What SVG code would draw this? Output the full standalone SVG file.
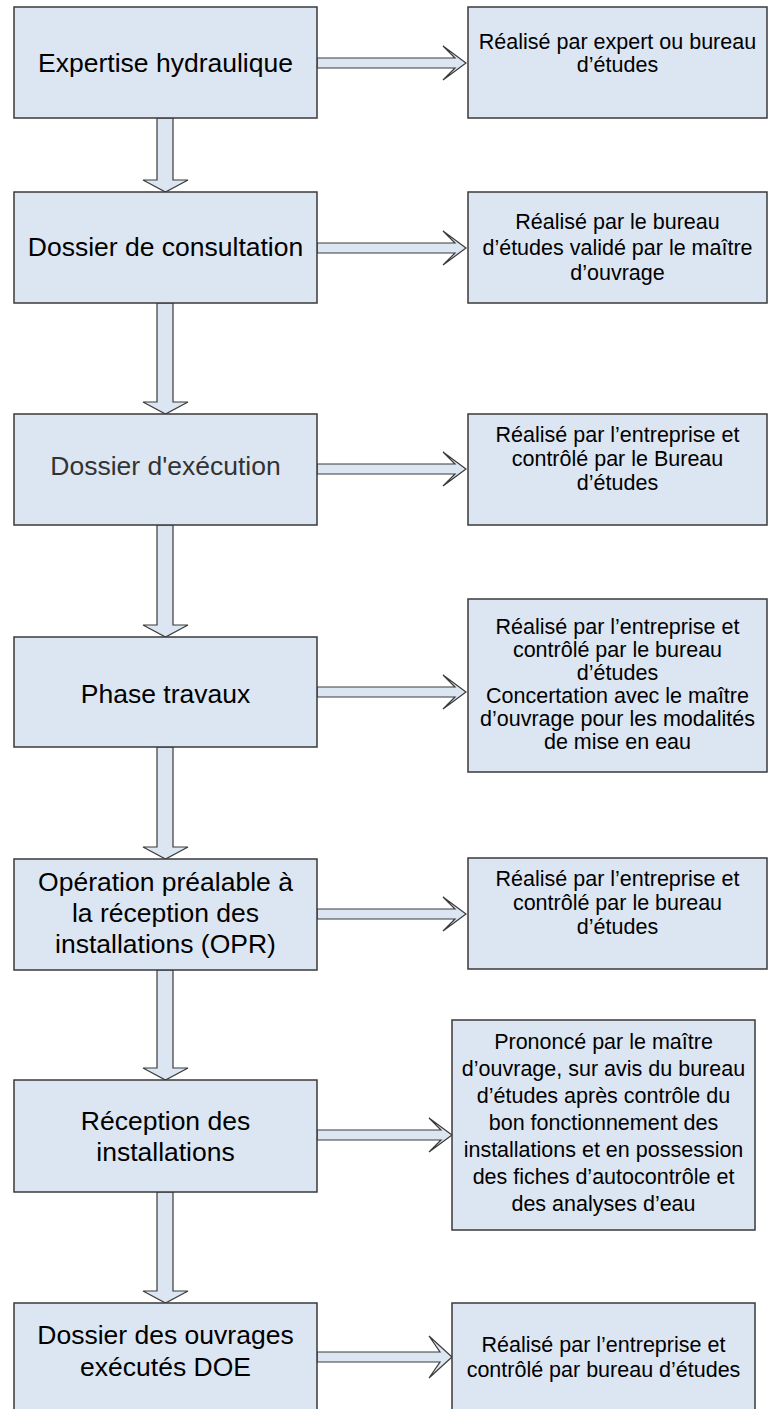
<svg xmlns="http://www.w3.org/2000/svg" width="768" height="1409" viewBox="0 0 768 1409">
<style>
.box{fill:#dce6f2;stroke:#3a3a3a;stroke-width:1.5}
.arr{fill:#dce6f2;stroke:#3a3a3a;stroke-width:1.2;stroke-linejoin:miter}
.lt{font-family:"Liberation Sans",Arial,sans-serif;font-size:26.5px;fill:#000;text-anchor:middle}
.rt{font-family:"Liberation Sans",Arial,sans-serif;font-size:21.5px;fill:#000;text-anchor:middle}
</style>
<rect width="768" height="1409" fill="#fff"/>
<g id="connectors">
<polygon class="arr" points="157,118 173,118 173,180 188,180 165.5,192 143,180 157,180"/>
<polygon class="arr" points="157,303 173,303 173,402 188,402 165.5,414 143,402 157,402"/>
<polygon class="arr" points="157,525 173,525 173,625 188,625 165.5,637 143,625 157,625"/>
<polygon class="arr" points="157,747 173,747 173,847 188,847 165.5,859 143,847 157,847"/>
<polygon class="arr" points="157,970 173,970 173,1068 188,1068 165.5,1080 143,1068 157,1068"/>
<polygon class="arr" points="157,1192 173,1192 173,1291 188,1291 165.5,1303 143,1291 157,1291"/>
<polygon class="arr" points="317,58 455,58 443,46 466,63 443,80 455,68 317,68"/>
<polygon class="arr" points="317,243 455,243 443,231 466,248 443,265 455,253 317,253"/>
<polygon class="arr" points="317,464 455,464 443,452 466,469 443,486 455,474 317,474"/>
<polygon class="arr" points="317,687 455,687 443,675 466,692 443,709 455,697 317,697"/>
<polygon class="arr" points="317,909 455,909 443,897 466,914 443,931 455,919 317,919"/>
<polygon class="arr" points="317,1130 441,1130 429,1118 452,1135 429,1152 441,1140 317,1140"/>
<polygon class="arr" points="317,1352 440,1352 429,1336 452,1357 429,1378 440,1362 317,1362"/>
</g>
<g id="n1"><rect class="box" x="14" y="7" width="303" height="111"/><text class="lt" x="165.5" y="72">Expertise hydraulique</text></g>
<g id="n2"><rect class="box" x="14" y="192" width="303" height="111"/><text class="lt" x="165.5" y="256">Dossier de consultation</text></g>
<g id="n3"><rect class="box" x="14" y="414" width="303" height="111"/><text class="lt" x="165.5" y="475" style="fill:#333">Dossier d'exécution</text></g>
<g id="n4"><rect class="box" x="14" y="637" width="303" height="110"/><text class="lt" x="165.5" y="703">Phase travaux</text></g>
<g id="n5"><rect class="box" x="14" y="859" width="303" height="111"/><text class="lt" x="165.5"><tspan x="165.5" y="891">Opération préalable à</tspan><tspan x="165.5" y="922">la réception des</tspan><tspan x="165.5" y="953">installations (OPR)</tspan></text></g>
<g id="n6"><rect class="box" x="14" y="1080" width="303" height="112"/><text class="lt" x="165.5"><tspan x="165.5" y="1130">Réception des</tspan><tspan x="165.5" y="1161">installations</tspan></text></g>
<g id="n7"><rect class="box" x="14" y="1303" width="303" height="110"/><text class="lt" x="165.5"><tspan x="165.5" y="1344">Dossier des ouvrages</tspan><tspan x="165.5" y="1376">exécutés DOE</tspan></text></g>
<g id="r1"><rect class="box" x="468" y="7" width="299" height="111"/><text class="rt"><tspan x="617.5" y="49">Réalisé par expert ou bureau</tspan><tspan x="617.5" y="72">d’études</tspan></text></g>
<g id="r2"><rect class="box" x="468" y="192" width="299" height="111"/><text class="rt"><tspan x="617.5" y="229">Réalisé par le bureau</tspan><tspan x="617.5" y="255">d’études validé par le maître</tspan><tspan x="617.5" y="280">d’ouvrage</tspan></text></g>
<g id="r3"><rect class="box" x="468" y="414" width="299" height="111"/><text class="rt"><tspan x="617.5" y="442">Réalisé par l’entreprise et</tspan><tspan x="617.5" y="466">contrôlé par le Bureau</tspan><tspan x="617.5" y="490">d’études</tspan></text></g>
<g id="r4"><rect class="box" x="468" y="599" width="299" height="173"/><text class="rt"><tspan x="617.5" y="634">Réalisé par l’entreprise et</tspan><tspan x="617.5" y="657">contrôlé par le bureau</tspan><tspan x="617.5" y="680">d’études</tspan><tspan x="617.5" y="703">Concertation avec le maître</tspan><tspan x="617.5" y="726">d’ouvrage pour  les modalités</tspan><tspan x="617.5" y="749">de mise en eau</tspan></text></g>
<g id="r5"><rect class="box" x="468" y="858" width="299" height="111"/><text class="rt"><tspan x="617.5" y="886">Réalisé par l’entreprise et</tspan><tspan x="617.5" y="910">contrôlé par le bureau</tspan><tspan x="617.5" y="934">d’études</tspan></text></g>
<g id="r6"><rect class="box" x="452" y="1020" width="303" height="210"/><text class="rt"><tspan x="603.5" y="1049">Prononcé par le maître</tspan><tspan x="603.5" y="1076">d’ouvrage, sur avis du bureau</tspan><tspan x="603.5" y="1103">d’études après contrôle du</tspan><tspan x="603.5" y="1130">bon fonctionnement des</tspan><tspan x="603.5" y="1157">installations et en possession</tspan><tspan x="603.5" y="1184">des fiches d’autocontrôle et</tspan><tspan x="603.5" y="1211">des analyses d’eau</tspan></text></g>
<g id="r7"><rect class="box" x="452" y="1303" width="303" height="110"/><text class="rt"><tspan x="603.5" y="1352">Réalisé par l’entreprise et</tspan><tspan x="603.5" y="1377">contrôlé par bureau d’études</tspan></text></g>
</svg>
